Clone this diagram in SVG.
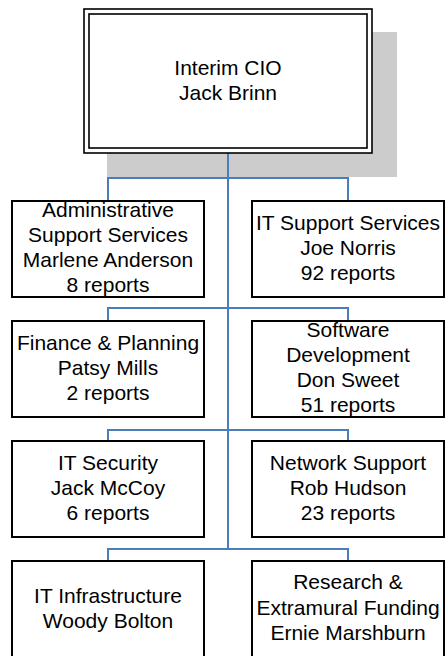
<svg xmlns="http://www.w3.org/2000/svg" width="445" height="656" viewBox="0 0 445 656">
<style>
.box{fill:#fff;stroke:#000;stroke-width:2}
.top{fill:#fff;stroke:#000;stroke-width:1.6}
.conn{fill:none;stroke:#4a7ebb;stroke-width:2}
text{font-family:"Liberation Sans",Arial,sans-serif;font-size:21px;fill:#000;text-anchor:middle}
</style>
<rect x="107" y="32" width="290" height="145" fill="#cccccc"/>
<g id="connectors">
<path class="conn" d="M228,153 V549"/>
<path class="conn" d="M108,201 V178 H348 V201"/>
<path class="conn" d="M108,321 V308 H348 V321"/>
<path class="conn" d="M108,441 V430 H348 V441"/>
<path class="conn" d="M108,561 V549 H348 V561"/>
</g>
<g id="cio">
<rect class="top" x="84" y="9" width="288" height="144"/>
<rect class="top" x="89" y="14" width="278" height="134"/>
<text x="228" y="75">Interim CIO</text>
<text x="228" y="100">Jack Brinn</text>
</g>
<g id="admin">
<rect class="box" x="12" y="201" width="192" height="96"/>
<text x="108" y="217">Administrative</text>
<text x="108" y="242">Support Services</text>
<text x="108" y="267">Marlene Anderson</text>
<text x="108" y="292">8 reports</text>
</g>
<g id="itsupport">
<rect class="box" x="252" y="201" width="192" height="96"/>
<text x="348" y="230">IT Support Services</text>
<text x="348" y="255">Joe Norris</text>
<text x="348" y="280">92 reports</text>
</g>
<g id="finance">
<rect class="box" x="12" y="321" width="192" height="96"/>
<text x="108" y="350">Finance &amp; Planning</text>
<text x="108" y="375">Patsy Mills</text>
<text x="108" y="400">2 reports</text>
</g>
<g id="software">
<rect class="box" x="252" y="321" width="192" height="96"/>
<text x="348" y="337">Software</text>
<text x="348" y="362">Development</text>
<text x="348" y="387">Don Sweet</text>
<text x="348" y="412">51 reports</text>
</g>
<g id="security">
<rect class="box" x="12" y="441" width="192" height="96"/>
<text x="108" y="470">IT Security</text>
<text x="108" y="495">Jack McCoy</text>
<text x="108" y="520">6 reports</text>
</g>
<g id="network">
<rect class="box" x="252" y="441" width="192" height="96"/>
<text x="348" y="470">Network Support</text>
<text x="348" y="495">Rob Hudson</text>
<text x="348" y="520">23 reports</text>
</g>
<g id="infrastructure">
<rect class="box" x="12" y="561" width="192" height="96"/>
<text x="108" y="603">IT Infrastructure</text>
<text x="108" y="628">Woody Bolton</text>
</g>
<g id="research">
<rect class="box" x="252" y="561" width="192" height="96"/>
<text x="348" y="589">Research &amp;</text>
<text x="348" y="615">Extramural Funding</text>
<text x="348" y="640">Ernie Marshburn</text>
</g>
</svg>
